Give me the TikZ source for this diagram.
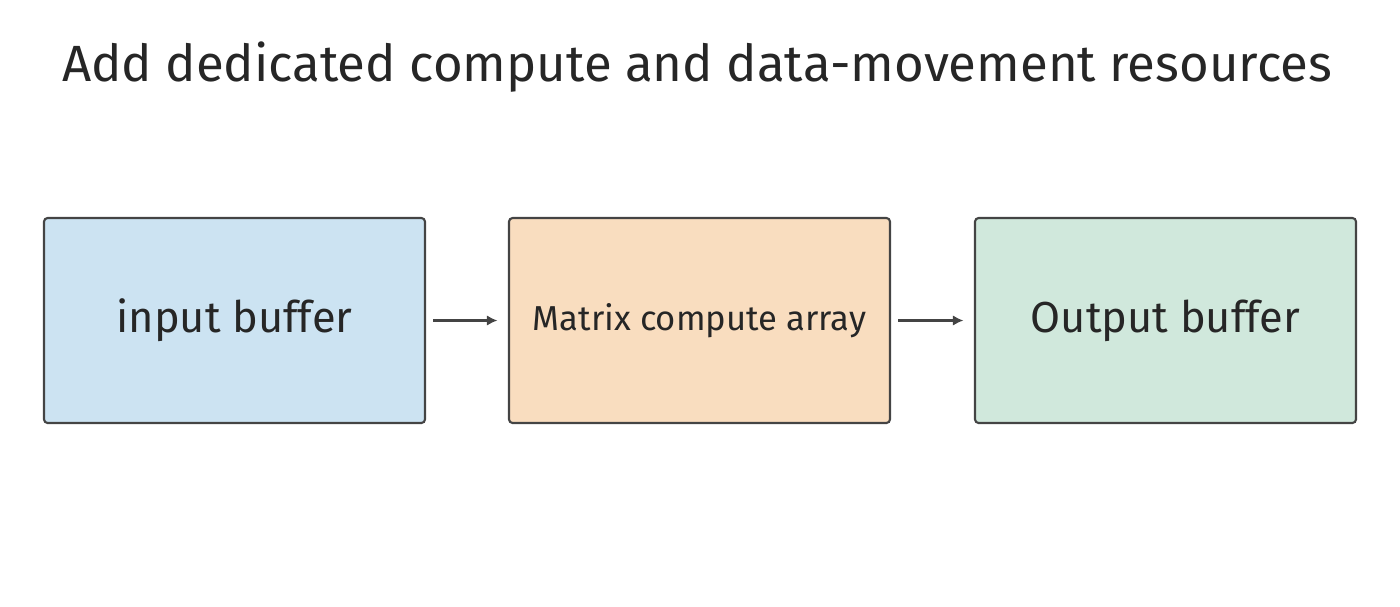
\documentclass[tikz,border=0pt]{standalone}
\usepackage{fontspec}
\setmainfont{Fira Sans}
\usetikzlibrary{positioning,arrows.meta}
\definecolor{boxblue}{HTML}{CCE3F2}
\definecolor{boxorange}{HTML}{F9DDBF}
\definecolor{boxgreen}{HTML}{D0E8DC}
\definecolor{edgegray}{HTML}{444444}
\tikzset{ b/.style = { rectangle % block
        , rounded corners = 2pt
        , draw = edgegray
        , line width = 1.2pt
        , minimum width = 7.62cm
        , minimum height = 4.1cm
        , text = black!85
        }
        , a/.style = { -{Latex[length=6pt,width=6pt]} % arrow
        , draw = edgegray
        , line width = 1.7pt
        }
        }
\begin{document}
\begin{tikzpicture}[x=0.02cm, y=-0.02cm]
        \useasboundingbox (0,0) rectangle (1400,606);
        \node [font=\fontsize{29}{34}\selectfont, text=black!85](title) at (697,67) {Add dedicated compute and data-movement resources};
        \node [b, fill=boxblue, font=\fontsize{24.7}{29}\selectfont](in) at (234.5,320.5) {input buffer};
        \node [b, fill=boxorange, font=\fontsize{19.7}{23}\selectfont](mx) at (699.5,320.5) {Matrix compute array};
        \node [b, fill=boxgreen, font=\fontsize{24.7}{29}\selectfont](out) at (1165.5,320.5) {Output buffer};
        \draw [a] ([xshift=4pt]in.east) -- ([xshift=-6pt]mx.west);
        \draw [a] ([xshift=4pt]mx.east) -- ([xshift=-6pt]out.west);
\end{tikzpicture}
\end{document}
